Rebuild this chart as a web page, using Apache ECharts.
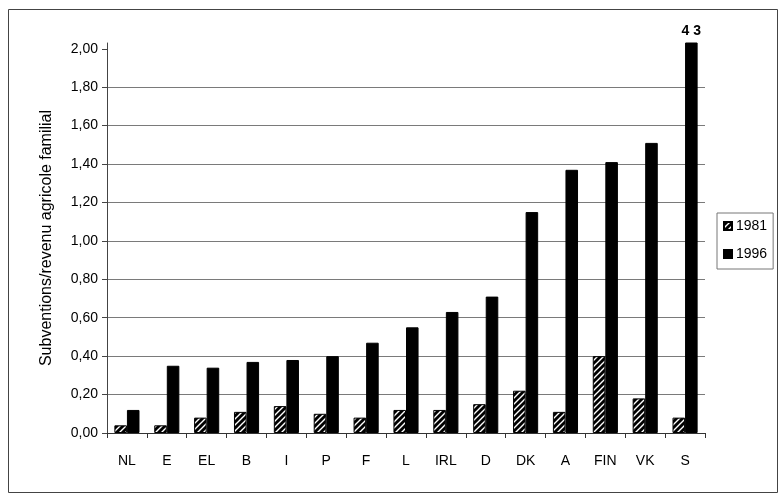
<!DOCTYPE html>
<html>
<head>
<meta charset="utf-8">
<title>Subventions / revenu agricole familial</title>
<script src="https://cdn.jsdelivr.net/npm/echarts@6/dist/echarts.min.js"></script>
<style>
  html, body { margin: 0; padding: 0; background: #fff; }
  #chart { width: 780px; height: 497px; }
</style>
</head>
<body>
<div id="chart"></div>
<script>
// Member states, in increasing order of the 1996 ratio
const countries = ['NL', 'E', 'EL', 'B', 'I', 'P', 'F', 'L', 'IRL', 'D', 'DK', 'A', 'FIN', 'VK', 'S'];
const values1981 = [0.04, 0.04, 0.08, 0.11, 0.14, 0.10, 0.08, 0.12, 0.12, 0.15, 0.22, 0.11, 0.40, 0.18, 0.08];
const values1996 = [0.12, 0.35, 0.34, 0.37, 0.38, 0.40, 0.47, 0.55, 0.63, 0.71, 1.15, 1.37, 1.41, 1.51, 4.3];
const yTicks = [0, 0.2, 0.4, 0.6, 0.8, 1.0, 1.2, 1.4, 1.6, 1.8, 2.0];
const seriesNames = ['1981', '1996'];
const overflowLabel = '4 3';

const FONT = 'Liberation Sans, Arial, sans-serif';

// Upward diagonal hatch used for the 1981 bars
function hatchPattern() {
  const c = document.createElement('canvas');
  c.width = 6; c.height = 6;
  const g = c.getContext('2d');
  g.fillStyle = '#000';
  g.fillRect(0, 0, 6, 6);
  g.strokeStyle = '#fff';
  g.lineWidth = 1.4;
  g.beginPath();
  g.moveTo(0, 6); g.lineTo(6, 0);
  g.moveTo(-3, 3); g.lineTo(3, -3);
  g.moveTo(3, 9); g.lineTo(9, 3);
  g.stroke();
  return c;
}

const chart = echarts.init(document.getElementById('chart'), null, { renderer: 'canvas' });

const fmt = v => v.toFixed(2).replace('.', ',');

// The bar that runs past the top of the scale is clipped and carries its value
const data1996 = values1996.map(v => {
  if (v > yTicks[yTicks.length - 1]) {
    return {
      value: v,
      label: {
        show: true, position: 'top', distance: 4,
        formatter: overflowLabel,
        fontFamily: FONT, fontSize: 14, fontWeight: 'bold', color: '#000'
      }
    };
  }
  return v;
});

chart.setOption({
  animation: false,
  backgroundColor: '#fff',
  textStyle: { fontFamily: FONT },
  graphic: [{
    type: 'rect',
    shape: { x: 8.5, y: 9.5, width: 769, height: 483 },
    style: { fill: 'none', stroke: '#444', lineWidth: 1 },
    silent: true
  }],
  grid: { left: 107, right: 75, top: 43, bottom: 64 },
  legend: {
    data: seriesNames,
    orient: 'vertical',
    left: 717, top: 213,
    padding: [6, 6, 8, 6],
    itemGap: 14,
    itemWidth: 8, itemHeight: 8,
    icon: 'rect',
    borderColor: '#777', borderWidth: 1,
    textStyle: { fontFamily: FONT, fontSize: 14, color: '#000', padding: [0, 0, 0, -1] }
  },
  xAxis: {
    type: 'category',
    data: countries,
    boundaryGap: true,
    axisLine: { lineStyle: { color: '#333', width: 1 } },
    axisTick: { show: true, length: 5, lineStyle: { color: '#333' } },
    axisLabel: { margin: 21, fontSize: 14, color: '#000', fontFamily: FONT, interval: 0 }
  },
  yAxis: {
    type: 'value',
    min: 0,
    max: 2.03,
    interval: 0.2,
    name: 'Subventions/revenu agricole familial',
    nameLocation: 'middle',
    nameGap: 52,
    nameTextStyle: { fontSize: 16, color: '#000', fontFamily: FONT },
    axisLine: { show: true, lineStyle: { color: '#444', width: 1 } },
    axisTick: { show: true, length: 5, customValues: yTicks, lineStyle: { color: '#444' } },
    axisLabel: {
      margin: 9, fontSize: 14, color: '#000', fontFamily: FONT,
      customValues: yTicks, formatter: fmt
    },
    splitLine: { show: true, showMaxLine: false, lineStyle: { color: '#7a7a7a', width: 1 } }
  },
  series: [
    {
      name: seriesNames[0],
      type: 'bar',
      data: values1981,
      barGap: '0%',
      barCategoryGap: '37%',
      itemStyle: {
        color: { image: hatchPattern(), repeat: 'repeat' },
        borderColor: '#000', borderWidth: 1
      }
    },
    {
      name: seriesNames[1],
      type: 'bar',
      data: data1996,
      barGap: '0%',
      barCategoryGap: '37%',
      clip: true,
      itemStyle: { color: '#000', borderColor: '#000', borderWidth: 1 }
    }
  ]
});
</script>
</body>
</html>
